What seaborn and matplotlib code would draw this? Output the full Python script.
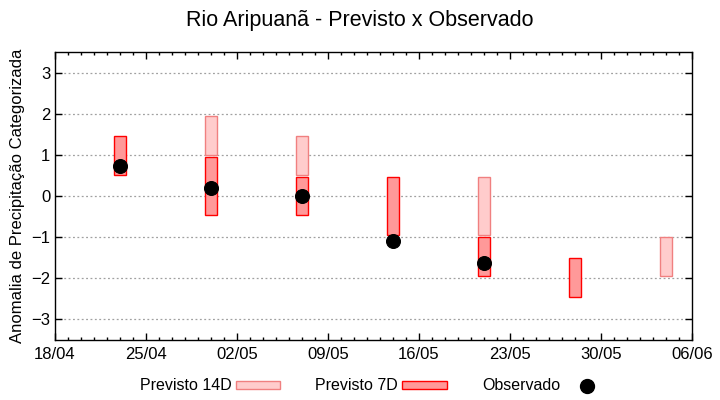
import pandas as pd
import numpy as np
import matplotlib
matplotlib.use("Agg")
import matplotlib.pyplot as plt
import matplotlib.dates as mdates
from matplotlib.patches import Patch
from matplotlib.lines import Line2D
import seaborn as sns

# forecast ranges (categorized anomaly)
prev14_dates = ["2024-04-30", "2024-05-07", "2024-05-21", "2024-06-04"]
prev14_low = [1.0, 0.5, -0.95, -1.95]
prev14_high = [1.95, 1.45, 0.45, -1.0]

prev7_dates = ["2024-04-23", "2024-04-30", "2024-05-07", "2024-05-14", "2024-05-21", "2024-05-28"]
prev7_low = [0.5, -0.45, -0.45, -0.95, -1.95, -2.45]
prev7_high = [1.45, 0.95, 0.45, 0.45, -1.0, -1.5]

obs_dates = ["2024-04-23", "2024-04-30", "2024-05-07", "2024-05-14", "2024-05-21"]
obs_values = [0.72, 0.19, 0.0, -1.1, -1.62]

tick_dates = ["2024-04-18", "2024-04-25", "2024-05-02", "2024-05-09",
              "2024-05-16", "2024-05-23", "2024-05-30", "2024-06-06"]

df14 = pd.DataFrame({"data": pd.to_datetime(prev14_dates), "low": prev14_low, "high": prev14_high})
df7 = pd.DataFrame({"data": pd.to_datetime(prev7_dates), "low": prev7_low, "high": prev7_high})
dfobs = pd.DataFrame({"data": pd.to_datetime(obs_dates), "valor": obs_values})

sns.set_style("ticks")
plt.rcParams["font.family"] = ["Liberation Sans", "DejaVu Sans"]
plt.rcParams.update({"text.color": "black", "axes.labelcolor": "black",
                     "xtick.color": "black", "ytick.color": "black"})

c14_fill, c14_edge = "#ffcccc", "#f08080"
c7_fill, c7_edge = "#ff9999", "#ff0000"

fig = plt.figure(figsize=(7.2, 4), dpi=100)
ax = fig.add_axes([0.0764, 0.15, 0.8846, 0.72])

ax.bar(df14["data"], df14["high"] - df14["low"], bottom=df14["low"], width=0.92,
       color=c14_fill, edgecolor=c14_edge, linewidth=1.0, zorder=2)
ax.bar(df7["data"], df7["high"] - df7["low"], bottom=df7["low"], width=0.92,
       color=c7_fill, edgecolor=c7_edge, linewidth=1.0, zorder=2)
sns.scatterplot(data=dfobs, x="data", y="valor", ax=ax, color="black", s=100,
                edgecolor="black", zorder=3, legend=False)

ax.set_xlim(pd.Timestamp("2024-04-18"), pd.Timestamp("2024-06-06"))
ax.set_ylim(-3.5, 3.5)
ax.set_yticks(range(-3, 4))
ax.set_xticks(pd.to_datetime(tick_dates))
ax.xaxis.set_major_formatter(mdates.DateFormatter("%d/%m"))
ax.xaxis.set_minor_locator(mdates.DayLocator())
ax.grid(axis="y", color="#a0a0a0", linestyle=(0, (1.5, 2)), linewidth=0.9, zorder=0)
ax.tick_params(which="both", direction="in", top=True, right=True, labelsize=12, color="black")
ax.tick_params(which="major", length=5, width=1)
ax.tick_params(which="minor", length=2.5, width=1)
ax.tick_params(axis="x", pad=5)
for s in ax.spines.values():
    s.set_color("black")
    s.set_linewidth(1)
ax.set_xlabel("")
ax.set_ylabel("Anomalia de Precipitação Categorizada", fontsize=12, labelpad=4)
fig.suptitle("Rio Aripuanã - Previsto x Observado", fontsize=15.5, y=0.975)

handles = [
    Patch(facecolor=c14_fill, edgecolor=c14_edge, linewidth=1.0),
    Patch(facecolor=c7_fill, edgecolor=c7_edge, linewidth=1.0),
    Line2D([], [], marker="o", color="black", linestyle="", markersize=10),
]
fig.legend(handles, ["Previsto 14D", "Previsto 7D", "Observado"], loc="center",
           bbox_to_anchor=(0.52, 0.035), ncol=3, frameon=False, markerfirst=False,
           fontsize=11.5, handlelength=2.8, handleheight=0.35, columnspacing=2.2,
           handletextpad=0.25)

fig.savefig("out.png", dpi=100)
